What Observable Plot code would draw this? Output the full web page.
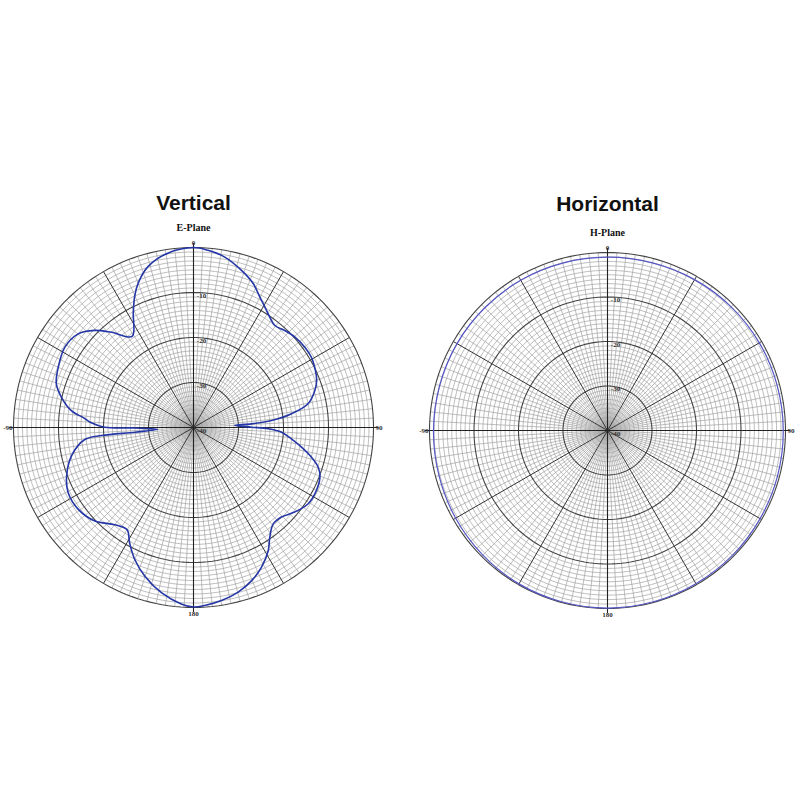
<!DOCTYPE html>
<html><head><meta charset="utf-8">
<script src="https://cdn.jsdelivr.net/npm/d3@7"></script>
<script src="https://cdn.jsdelivr.net/npm/@observablehq/plot@0.6"></script>
<style>
body{margin:0;background:#fff;}
#wrap{position:relative;width:800px;height:800px;overflow:hidden;}
#wrap svg{position:absolute;top:0;}
</style></head><body><div id="wrap"></div>
<script>
// E-plane (Vertical) pattern: angle in degrees (clockwise from top), gain in dB
const eAngle = [-180,-176,-169,-162,-156,-151,-147,-141,-133.5,-125.4,-117.5,-111,-103,-96.3,-95,-94.6,-93,-90.5,-89.8,-87.1,-85,-82.1,-77.1,-72.3,-66,-58,-50.9,-45.5,-40.7,-34,-27.7,-24.1,-20.9,-15.7,-8.2,0,4.7,10.4,17,22.6,27,30.7,34.7,38.6,43.3,48.3,54.2,59.2,65,69.1,73,78.3,82,84.9,86.4,87.2,89.7,91,93.1,96.6,100.3,104.1,107.7,111.5,117.1,123.6,129.9,135.5,140.4,145.2,148.7,154,159.2,164.8,170.8,176.4];
const eGain  = [-0.1,-0.7,-2.6,-5.2,-7.9,-10.7,-12.9,-12.2,-9.8,-8.6,-8.6,-9.8,-12.2,-15.7,-19.5,-27,-32,-27,-20.3,-17,-15.5,-12.6,-9.9,-8,-7.1,-6.3,-7,-9.2,-12.1,-15.6,-11.2,-8,-5.6,-2.8,-0.8,0,-0.5,-1.5,-3.5,-5.4,-7.5,-8.9,-10.2,-11,-10.4,-9.8,-9.5,-9.5,-10.1,-10.7,-11.8,-14,-18,-22.6,-27.1,-30.8,-27.1,-23.4,-20.4,-18.1,-15.6,-13,-10.9,-9.8,-9.3,-9.4,-10.7,-12.1,-12.2,-10.3,-8,-5.5,-3.6,-2.1,-1.05,-0.36];

// H-plane (Horizontal) pattern
const hAngle = [-165,-150,-135,-120,-105,-90,-75,-60,-45,-30,-15,0,15,30,45,60,75,90,105,120,135,150,165,180];
const hGain  = [-0.15,-0.2,-0.4,-0.6,-0.8,-0.9,-0.95,-0.95,-1.0,-1.0,-1.05,-1.05,-1.0,-0.85,-0.7,-0.6,-0.55,-0.5,-0.45,-0.4,-0.3,-0.25,-0.15,-0.1];

const majorRings = [-30,-20,-10,0];
const ringLabelLevels = [-10,-20,-30,-40];
const ringLabels = ["-10","-20","-30","-40"];
const titles = ["Vertical","Horizontal"];
const subtitles = ["E-Plane","H-Plane"];
const FLOOR = -40;

const rad = d => d*Math.PI/180;
const px = (a,g) => (g-FLOOR)*Math.sin(rad(a));
const py = (a,g) => (g-FLOOR)*Math.cos(rad(a));

function ringPts(levels){
  const pts=[];
  for (const L of levels) for (let a=0;a<=360;a+=2) pts.push({L, a});
  return pts;
}
const minorLevels = d3.range(-39,0).filter(l => l%10!==0);
const minorSpokes = d3.range(0,360,3).filter(a=>a%30!==0);
const majorSpokes = d3.range(0,360,30);

function chart(angle, gain, o){
  const data = angle.map((a,i)=>({a, g: gain[i]}));
  const rl = ringLabelLevels.map((L,i)=>({L, t: ringLabels[i]}));
  const lab = {fontFamily:"Liberation Serif, serif", fontWeight:"bold", fontSize:7, fill:"#333"};
  return Plot.plot({
    width: 400, height: 800,
    marginLeft: o.ml, marginRight: o.mr, marginTop: o.mt, marginBottom: o.mb,
    x: {domain:[-40,40], axis:null}, y: {domain:[-40,40], axis:null},
    style: {background:"transparent", fontFamily:"Liberation Sans, Arial, sans-serif"},
    marks: [
      Plot.line(ringPts(minorLevels), {x: d=>px(d.a,d.L), y: d=>py(d.a,d.L), z: "L", stroke:"#a2a2a2", strokeWidth:0.7}),
      Plot.link(minorSpokes, {x1:()=>0, y1:()=>0, x2:a=>px(a,0), y2:a=>py(a,0), stroke:"#a2a2a2", strokeWidth:0.7}),
      Plot.line(ringPts(majorRings), {x: d=>px(d.a,d.L), y: d=>py(d.a,d.L), z: "L", stroke:"#444", strokeWidth:1.1}),
      Plot.link(majorSpokes, {x1:()=>0, y1:()=>0, x2:a=>px(a,0), y2:a=>py(a,0), stroke:"#333", strokeWidth:1}),
      Plot.link([0,90], {x1:a=>px(a,1), y1:a=>py(a,1), x2:a=>px(a+180,1), y2:a=>py(a+180,1), stroke:"#222", strokeWidth:1.1}),
      Plot.line(data, {x: d=>px(d.a,d.g), y: d=>py(d.a,d.g), curve:"catmull-rom-closed", stroke:o.color, strokeWidth:o.sw}),
      Plot.text(rl, {x:()=>0, y:d=>d.L-FLOOR, text:"t", dx:8, dy:3, ...lab}),
      Plot.text(["0"], {x:()=>0, y:()=>40, text:d=>d, dy:-5, ...lab}),
      Plot.text(["180"], {x:()=>0, y:()=>-40, text:d=>d, dy:6, ...lab}),
      Plot.text(["90"], {x:()=>40, y:()=>0, text:d=>d, dx:2, textAnchor:"start", ...lab}),
      Plot.text(["-90"], {x:()=>-40, y:()=>0, text:d=>d, dx:-1, textAnchor:"end", ...lab}),
      Plot.text([o.title], {frameAnchor:"top", text:d=>d, dy:o.tdy, fontSize:21, fontWeight:"bold", fill:"#111", fontFamily:"Liberation Sans, Arial, sans-serif"}),
      Plot.text([o.sub], {frameAnchor:"top", text:d=>d, dy:o.sdy, fontSize:10, fontWeight:"bold", fill:"#111", fontFamily:"Liberation Serif, serif"})
    ]
  });
}

const wrap = document.getElementById("wrap");
const left = chart(eAngle, eGain, {ml:13, mr:27, mt:247, mb:193, color:"#2436a6", sw:1.6, title:titles[0], sub:subtitles[0], tdy:-52, sdy:-23.5});
left.style.left = "0px";
const right = chart(hAngle, hGain, {ml:29, mr:15, mt:252, mb:192, color:"#5656c4", sw:1.2, title:titles[1], sub:subtitles[1], tdy:-56.5, sdy:-23.5});
right.style.left = "400px";
wrap.appendChild(left);
wrap.appendChild(right);
</script>
</body></html>
